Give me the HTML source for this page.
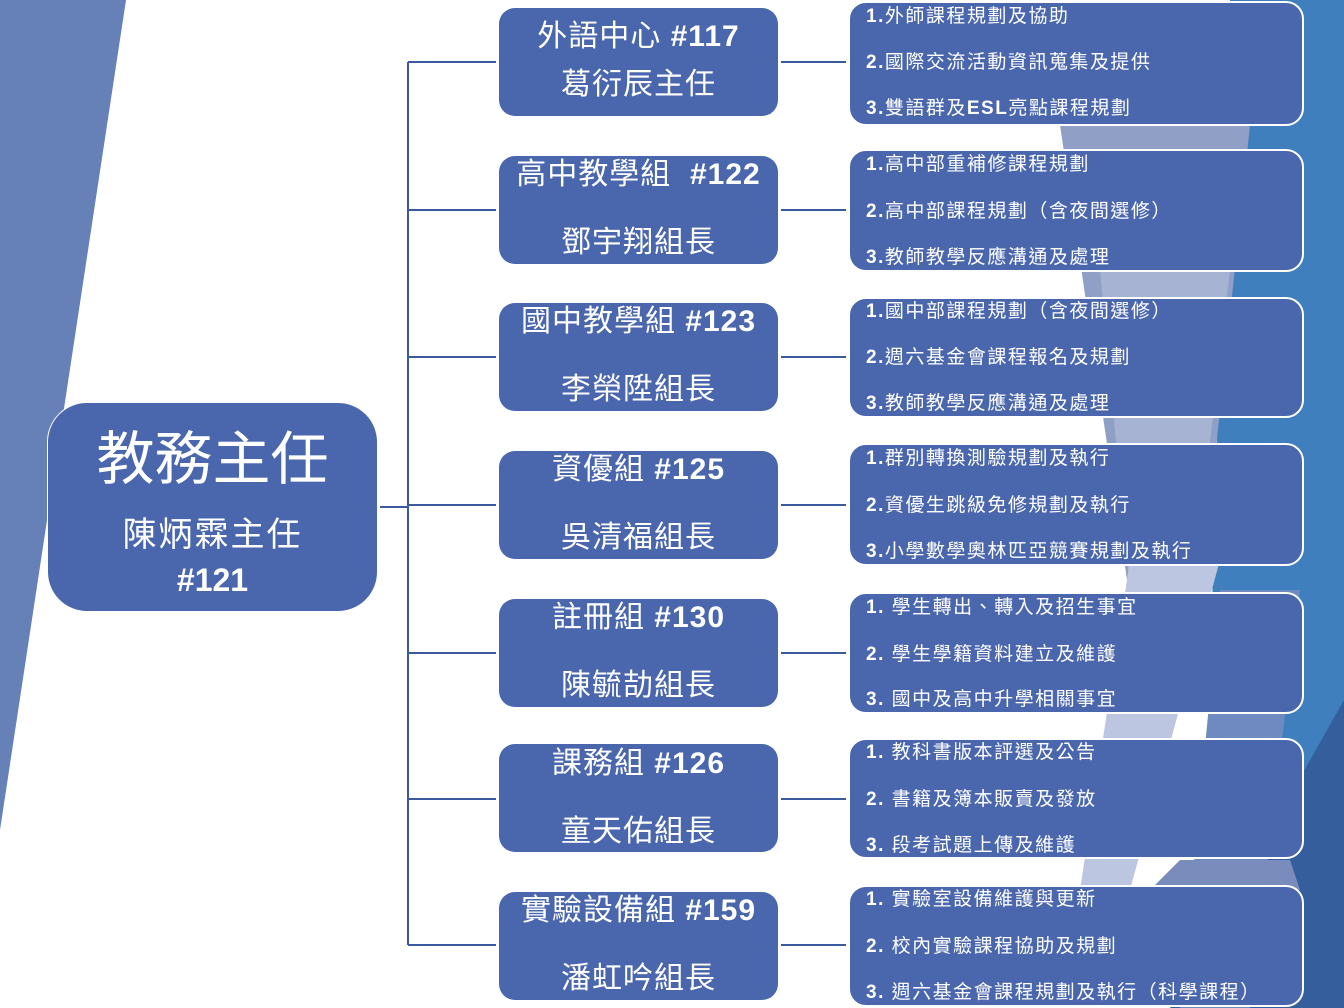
<!DOCTYPE html>
<html><head><meta charset="utf-8"><style>
*{margin:0;padding:0;box-sizing:border-box}
body{width:1344px;height:1008px;position:relative;overflow:hidden;background:#fff;font-family:"Liberation Sans","Noto Sans CJK TC",sans-serif;color:#fff}
.m{position:absolute;left:499px;width:279px;height:108px;background:#4a67ad;border-radius:16px;text-align:center;font-size:30px;letter-spacing:1px}
.m div{position:absolute;left:0;right:0;line-height:36px}
.r{position:absolute;left:848px;width:456px;background:#4a67ad;border:2px solid #fff;border-radius:18px;font-size:19px;letter-spacing:1.5px}
.r div{position:absolute;left:16px;line-height:24px;white-space:nowrap}
.r b{font-weight:bold}
</style></head><body>
<svg width="1344" height="1008" style="position:absolute;left:0;top:0">
<polygon points="0,0 126,0 0,830" fill="#6680b8"/>
<polygon points="1230,0 1344,0 1344,1008 1200,1008" fill="#3f7fbe"/>
<polygon points="1344,700 1344,1008 1170,1008" fill="#355f9c"/>
<polygon points="1060,125 1250,125 1200,600 1130,600" fill="#8f9fc6"/>
<polygon points="1100,270 1230,270 1180,700 1140,700" fill="#a7b3d3"/>
<polygon points="1130,560 1220,560 1130,890 1080,890" fill="#bcc6e0"/>
<polygon points="1220,590 1300,590 1250,1008 1180,1008" fill="#6f8ac0"/>
<polygon points="1180,860 1290,860 1300,890 1150,890" fill="#7a8cbb"/>
<g stroke="#3b5a9e" stroke-width="2" fill="none">
<line x1="408" y1="62" x2="408" y2="945"/>
<line x1="380" y1="507" x2="408" y2="507"/>
<line x1="408" y1="62" x2="496" y2="62"/>
<line x1="408" y1="210" x2="496" y2="210"/>
<line x1="408" y1="357" x2="496" y2="357"/>
<line x1="408" y1="505" x2="496" y2="505"/>
<line x1="408" y1="653" x2="496" y2="653"/>
<line x1="408" y1="799" x2="496" y2="799"/>
<line x1="408" y1="945" x2="496" y2="945"/>
<line x1="781" y1="62" x2="846" y2="62"/>
<line x1="781" y1="210" x2="846" y2="210"/>
<line x1="781" y1="357" x2="846" y2="357"/>
<line x1="781" y1="505" x2="846" y2="505"/>
<line x1="781" y1="653" x2="846" y2="653"/>
<line x1="781" y1="799" x2="846" y2="799"/>
<line x1="781" y1="945" x2="846" y2="945"/>
</g>
</svg>
<div style="position:absolute;left:47px;top:402px;width:331px;height:210px;background:#4a67ad;border-radius:40px;border:1px solid #fff;text-align:center">
<div style="position:absolute;left:0;right:0;top:22px;font-size:58px;line-height:70px;letter-spacing:0px">教務主任</div>
<div style="position:absolute;left:0;right:0;top:111px;font-size:34px;line-height:42px;letter-spacing:2px">陳炳霖主任</div>
<div style="position:absolute;left:0;right:0;top:157px;font-size:32px;line-height:40px;font-weight:bold">#121</div>
</div>
<div class="m" style="top:8px"><div style="top:11px">外語中心 <b>#117</b></div><div style="top:59px">葛衍辰主任</div></div>
<div class="m" style="top:156px"><div style="top:1px">高中教學組&nbsp; <b>#122</b></div><div style="top:69px">鄧宇翔組長</div></div>
<div class="m" style="top:303px"><div style="top:1px">國中教學組 <b>#123</b></div><div style="top:69px">李榮陞組長</div></div>
<div class="m" style="top:451px"><div style="top:1px">資優組 <b>#125</b></div><div style="top:69px">吳清福組長</div></div>
<div class="m" style="top:599px"><div style="top:1px">註冊組 <b>#130</b></div><div style="top:69px">陳毓劼組長</div></div>
<div class="m" style="top:744px"><div style="top:2px">課務組 <b>#126</b></div><div style="top:70px">童天佑組長</div></div>
<div class="m" style="top:892px"><div style="top:1px">實驗設備組 <b>#159</b></div><div style="top:69px">潘虹吟組長</div></div>

<div class="r" style="top:1px;height:125px"><div style="top:2px"><b>1.</b>外師課程規劃及協助</div><div style="top:48px"><b>2.</b>國際交流活動資訊蒐集及提供</div><div style="top:94px"><b>3.</b>雙語群及<b>ESL</b>亮點課程規劃</div></div>
<div class="r" style="top:149px;height:123px"><div style="top:2px"><b>1.</b>高中部重補修課程規劃</div><div style="top:49px"><b>2.</b>高中部課程規劃（含夜間選修）</div><div style="top:95px"><b>3.</b>教師教學反應溝通及處理</div></div>
<div class="r" style="top:297px;height:121px"><div style="top:1px"><b>1.</b>國中部課程規劃（含夜間選修）</div><div style="top:47px"><b>2.</b>週六基金會課程報名及規劃</div><div style="top:93px"><b>3.</b>教師教學反應溝通及處理</div></div>
<div class="r" style="top:443px;height:123px"><div style="top:2px"><b>1.</b>群別轉換測驗規劃及執行</div><div style="top:49px"><b>2.</b>資優生跳級免修規劃及執行</div><div style="top:95px"><b>3.</b>小學數學奧林匹亞競賽規劃及執行</div></div>
<div class="r" style="top:592px;height:122px"><div style="top:2px"><b>1.</b> 學生轉出、轉入及招生事宜</div><div style="top:49px"><b>2.</b> 學生學籍資料建立及維護</div><div style="top:94px"><b>3.</b> 國中及高中升學相關事宜</div></div>
<div class="r" style="top:738px;height:121px"><div style="top:1px"><b>1.</b> 教科書版本評選及公告</div><div style="top:48px"><b>2.</b> 書籍及簿本販賣及發放</div><div style="top:94px"><b>3.</b> 段考試題上傳及維護</div></div>
<div class="r" style="top:885px;height:122px"><div style="top:1px"><b>1.</b> 實驗室設備維護與更新</div><div style="top:48px"><b>2.</b> 校內實驗課程協助及規劃</div><div style="top:94px"><b>3.</b> 週六基金會課程規劃及執行（科學課程）</div></div>
</body></html>
